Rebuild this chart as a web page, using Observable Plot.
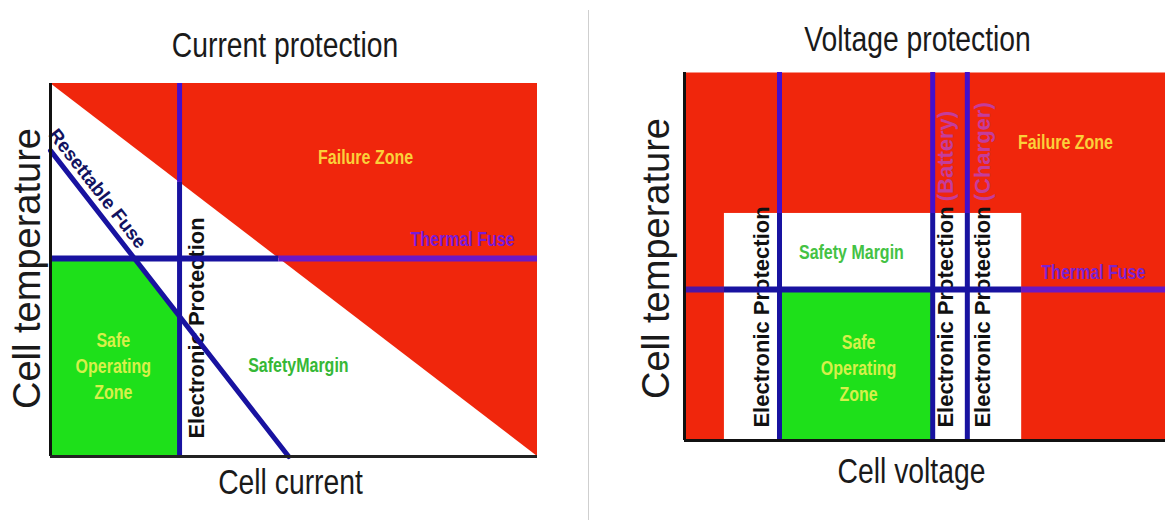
<!DOCTYPE html>
<html>
<head>
<meta charset="utf-8">
<script src="https://cdn.jsdelivr.net/npm/d3@7"></script>
<script src="https://cdn.jsdelivr.net/npm/@observablehq/plot@0.6"></script>
<style>
  html, body { margin: 0; padding: 0; background: #fff; }
  body { width: 1165px; height: 520px; position: relative; overflow: hidden; }
  #left { position: absolute; left: 0; top: 0; width: 588px; height: 520px; }
  #right { position: absolute; left: 588px; top: 0; width: 577px; height: 520px; }
  #divider { position: absolute; left: 588px; top: 10px; width: 1px; height: 510px; background: #cfcfcf; z-index: 2; }
</style>
</head>
<body>
<div id="left"></div>
<div id="right"></div>
<div id="divider"></div>
<script>
// ---------- shared palette / fonts ----------
const RED = "#f0260c";
const GREEN = "#1ee01a";
const NAVY = "#1812a0";
const VIOLET = "#4410cc";
const PURPLE = "#6a18c4";
const REG = "'Liberation Sans', Arial, Helvetica, sans-serif";
const CONDENSE = 0.82; // the source artwork is horizontally squeezed

// ---------- LEFT: Current protection (axes in % of range) ----------
const curTitle = "Current protection";
const curXLabel = "Cell current";
const curYLabel = "Cell temperature";
// failure boundary: straight diagonal from max temperature at zero current to max current at zero temperature
const curFailureBoundary = [[0, 100], [100, 0]];
const curElectronicX = 26.5;       // electronic protection current limit
const curThermalY = 53.1;          // thermal fuse temperature limit
const curResettableFuse = [[0, 82], [48.9, 0]];
const curSafeZoneTop = [[0, 53.1], [17.3, 53.1], [26.5, 37.6]];
const curLabels = [
  {x: 64.7, y: 80.7, text: "Failure Zone", fill: "#fbd03a"},
  {x: 84.6, y: 58.7, text: "Thermal Fuse", fill: "#7a1ad8"},
  {x: 50.9, y: 24.9, text: "SafetyMargin", fill: "#36b836"},
  {x: 12.9, y: 24.6, text: "Safe\nOperating\nZone", fill: "#d6f04a"}
];
const curVertLabels = [{x: 30.0, y: 4.8, text: "Electronic Protection", fill: "#111"}];
const curFuseLabel = [{x: 9.65, y: 71.8, text: "Resettable Fuse"}];

// derived segments (split where the line crosses the failure diagonal)
const curVertSegs = [
  {x: curElectronicX, y1: 0, y2: 100 - curElectronicX, stroke: NAVY},
  {x: curElectronicX, y1: 100 - curElectronicX, y2: 100, stroke: VIOLET}
];
const curHorizSegs = [
  {y: curThermalY, x1: 0, x2: 100 - curThermalY, stroke: NAVY},
  {y: curThermalY, x1: 100 - curThermalY, x2: 100, stroke: PURPLE}
];

const left = Plot.plot({
  width: 588, height: 520,
  marginLeft: 50, marginRight: 51, marginTop: 83, marginBottom: 64,
  x: {domain: [0, 100], axis: null},
  y: {domain: [0, 100], axis: null},
  style: {background: "transparent", maxWidth: "none", overflow: "visible"},
  marks: [
    Plot.areaY(curFailureBoundary, {x: d => d[0], y1: d => d[1], y2: 100, fill: RED}),
    Plot.areaY(curSafeZoneTop, {x: d => d[0], y: d => d[1], fill: GREEN}),
    Plot.text(curLabels, {x: "x", y: "y", text: "text", fill: "fill", fontSize: 19.5, fontWeight: "bold", fontFamily: REG, lineHeight: 1.35}),
    Plot.text(curVertLabels, {x: "x", y: "y", text: "text", fill: "fill", rotate: -90, textAnchor: "start", fontSize: 22, fontWeight: "bold", fontFamily: REG}),
    Plot.text(curFuseLabel, {x: "x", y: "y", text: "text", fill: "#121260", rotate: 52, fontSize: 19, fontWeight: "bold", fontFamily: REG}),
    Plot.line(curResettableFuse, {x: d => d[0], y: d => d[1], stroke: NAVY, strokeWidth: 5}),
    Plot.ruleX(curVertSegs, {x: "x", y1: "y1", y2: "y2", stroke: "stroke", strokeWidth: 5}),
    Plot.ruleY(curHorizSegs, {y: "y", x1: "x1", x2: "x2", stroke: "stroke", strokeWidth: 6}),
    Plot.ruleX([0], {stroke: "#111", strokeWidth: 3}),
    Plot.ruleY([0], {stroke: "#222", strokeWidth: 3}),
    Plot.text([curTitle], {frameAnchor: "top", text: d => d, lineAnchor: "middle", textAnchor: "middle", dx: -9, dy: -37.5, fontSize: 34.5, fontFamily: REG, fill: "#1a1a1a"}),
    Plot.text([curXLabel], {frameAnchor: "bottom", text: d => d, lineAnchor: "middle", textAnchor: "middle", dx: -3.5, dy: 26, fontSize: 34.5, fontFamily: REG, fill: "#1a1a1a"}),
    Plot.text([curYLabel], {frameAnchor: "left", text: d => d, lineAnchor: "middle", textAnchor: "middle", rotate: -90, dx: -23, dy: -1.5, fontSize: 38, fontFamily: REG, fill: "#1a1a1a"})
  ]
});
document.getElementById("left").appendChild(left);

// ---------- RIGHT: Voltage protection (axes in % of range) ----------
const voltTitle = "Voltage protection";
const voltXLabel = "Cell voltage";
const voltYLabel = "Cell temperature";
const voltMarginX = [8.3, 70.1];       // safety margin voltage window
const voltMarginTop = 61.7;            // safety margin temperature ceiling
const voltElectronicX = [19.75, 51.6, 58.8]; // low cut-off, battery high cut-off, charger high cut-off
const voltThermalY = 41.0;             // thermal fuse temperature
const voltLabels = [
  {x: 79.2, y: 81.5, text: "Failure Zone", fill: "#fbd03a"},
  {x: 85.0, y: 46.2, text: "Thermal Fuse", fill: "#7a22d0"},
  {x: 34.7, y: 51.6, text: "Safety Margin", fill: "#44c244"},
  {x: 36.2, y: 20.1, text: "Safe\nOperating\nZone", fill: "#d6f04a"}
];
const voltVertLabels = [
  {x: 16.2, y: 3.5, text: "Electronic Protection", fill: "#111"},
  {x: 54.3, y: 3.5, text: "Electronic Protection", fill: "#111"},
  {x: 54.3, y: 65.0, text: "(Battery)", fill: "#c43c9c"},
  {x: 62.0, y: 3.5, text: "Electronic Protection", fill: "#111"},
  {x: 62.0, y: 65.0, text: "(Charger)", fill: "#c43c9c"}
];

const voltMarginRect = [{x1: voltMarginX[0], x2: voltMarginX[1], y1: 0, y2: voltMarginTop}];
const voltSafeRect = [{x1: voltElectronicX[0], x2: voltElectronicX[1], y1: 0, y2: voltThermalY}];
const voltVertSegs = voltElectronicX.flatMap(x => [
  {x, y1: 0, y2: voltMarginTop, stroke: NAVY},
  {x, y1: voltMarginTop, y2: 100, stroke: VIOLET}
]);
const voltHorizSegs = [
  {y: voltThermalY, x1: 0, x2: voltMarginX[0], stroke: "#4a16a8"},
  {y: voltThermalY, x1: voltMarginX[0], x2: voltMarginX[1], stroke: NAVY},
  {y: voltThermalY, x1: voltMarginX[1], x2: 100, stroke: PURPLE}
];

const right = Plot.plot({
  width: 577, height: 520,
  marginLeft: 96, marginRight: 0, marginTop: 72, marginBottom: 80,
  x: {domain: [0, 100], axis: null},
  y: {domain: [0, 100], axis: null},
  style: {background: "transparent", maxWidth: "none", overflow: "visible"},
  marks: [
    Plot.frame({fill: RED, stroke: null}),
    Plot.rect(voltMarginRect, {x1: "x1", x2: "x2", y1: "y1", y2: "y2", fill: "#fff"}),
    Plot.rect(voltSafeRect, {x1: "x1", x2: "x2", y1: "y1", y2: "y2", fill: GREEN}),
    Plot.text(voltLabels, {x: "x", y: "y", text: "text", fill: "fill", fontSize: 19.5, fontWeight: "bold", fontFamily: REG, lineHeight: 1.35}),
    Plot.text(voltVertLabels, {x: "x", y: "y", text: "text", fill: "fill", rotate: -90, textAnchor: "start", fontSize: 22, fontWeight: "bold", fontFamily: REG}),
    Plot.ruleX(voltVertSegs, {x: "x", y1: "y1", y2: "y2", stroke: "stroke", strokeWidth: 5}),
    Plot.ruleY(voltHorizSegs, {y: "y", x1: "x1", x2: "x2", stroke: "stroke", strokeWidth: 6}),
    Plot.ruleX([0], {stroke: "#111", strokeWidth: 3}),
    Plot.ruleY([0], {stroke: "#111", strokeWidth: 3}),
    Plot.text([voltTitle], {frameAnchor: "top", text: d => d, lineAnchor: "middle", textAnchor: "middle", dx: -7.5, dy: -33, fontSize: 34.5, fontFamily: REG, fill: "#1a1a1a"}),
    Plot.text([voltXLabel], {frameAnchor: "bottom", text: d => d, lineAnchor: "middle", textAnchor: "middle", dx: -13.5, dy: 31, fontSize: 34.5, fontFamily: REG, fill: "#1a1a1a"}),
    Plot.text([voltYLabel], {frameAnchor: "left", text: d => d, lineAnchor: "middle", textAnchor: "middle", rotate: -90, dx: -28, dy: 2, fontSize: 38, fontFamily: REG, fill: "#1a1a1a"})
  ]
});
document.getElementById("right").appendChild(right);

// squeeze every horizontal (unrotated) text the way the original, horizontally compressed artwork shows it
function condense(svg, factor) {
  svg.querySelectorAll("text").forEach(t => {
    const tr = (t.getAttribute("transform") || "") + " " + (t.parentNode.getAttribute("transform") || "");
    if (/rotate/.test(tr)) return;
    const spans = t.querySelectorAll("tspan");
    const els = spans.length ? Array.from(spans) : [t];
    els.forEach(el => {
      const L = el.getComputedTextLength();
      if (L > 0) {
        el.setAttribute("textLength", (L * factor).toFixed(1));
        el.setAttribute("lengthAdjust", "spacingAndGlyphs");
      }
    });
  });
}
condense(left, CONDENSE);
condense(right, CONDENSE);
</script>
</body>
</html>
